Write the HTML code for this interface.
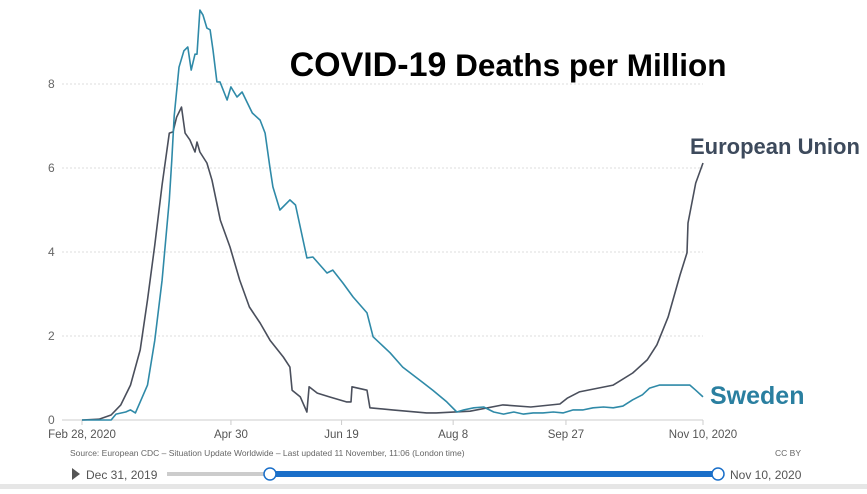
<!DOCTYPE html>
<html><head><meta charset="utf-8"><style>
body{margin:0;background:#fff;width:867px;height:489px;overflow:hidden;font-family:"Liberation Sans",sans-serif}
</style></head><body>
<svg width="867" height="489" id="svg" xmlns="http://www.w3.org/2000/svg">
<rect x="0" y="484" width="867" height="5" fill="#e6e6e6"/>
<text x="508" y="76" text-anchor="middle" font-family="Liberation Sans, sans-serif" font-weight="bold" font-size="31.5" fill="#000"><tspan font-size="34">COVID-19</tspan> Deaths per Million</text>
<g id="grid"></g><g id="xt"></g><g id="lines"></g>
<text x="690" y="154" font-weight="bold" font-size="22" fill="#3d4a5c">European Union</text>
<text x="710" y="404" font-weight="bold" font-size="25" fill="#2a7fa0">Sweden</text>
<text x="70" y="456" font-size="8.5" fill="#666">Source: European CDC – Situation Update Worldwide – Last updated 11 November, 11:06 (London time)</text>
<text x="801" y="456" font-size="8.5" fill="#666" text-anchor="end">CC BY</text>
<path d="M72 468 L80 474 L72 480 Z" fill="#555"/>
<text x="86" y="479" font-size="12" fill="#555">Dec 31, 2019</text>
<rect x="167" y="472" width="551" height="4" fill="#ccc"/>
<rect x="270" y="471" width="448" height="6" fill="#1a6fc9"/>
<circle cx="270" cy="474" r="6" fill="#fff" stroke="#1a6fc9" stroke-width="1.5"/>
<circle cx="718" cy="474" r="6" fill="#fff" stroke="#1a6fc9" stroke-width="1.5"/>
<text x="730" y="479" font-size="12" fill="#555">Nov 10, 2020</text>
</svg>
<script>
const yTicks=[0,2,4,6,8];
const xTickDays=[0,61.4,107,153,199.5,256];
const xTickLabels=["Feb 28, 2020","Apr 30","Jun 19","Aug 8","Sep 27","Nov 10, 2020"];
const euDays=[0,7,12,16,20,24,27,30,33,36,37.5,39,41,42.5,44.5,46.6,47.4,48.6,51.5,53.6,57,61,65,69,73.4,77.5,83,85.7,86.6,90,92.7,93.6,97,102,109,110.9,111.3,117.5,118.7,128,142,146,160,173.5,185,197,200,205,219,227,233,237,241.6,246.5,249.4,249.8,253,256];
const euVals=[0,0.02,0.12,0.36,0.83,1.67,2.86,4.17,5.6,6.83,6.86,7.21,7.45,6.83,6.67,6.38,6.62,6.38,6.12,5.71,4.76,4.12,3.33,2.69,2.31,1.9,1.5,1.26,0.71,0.55,0.19,0.79,0.64,0.55,0.43,0.43,0.79,0.71,0.29,0.24,0.17,0.17,0.21,0.36,0.31,0.38,0.52,0.67,0.83,1.12,1.43,1.79,2.45,3.45,3.98,4.69,5.64,6.12];
const seDays=[0,12,14,18,20,22,24,27,30,33,36,37,38,40,42,43.6,45,46.6,47.4,48.6,49.9,51.5,52.8,54,55.6,56.9,59.8,61.4,63.9,66,68,70.2,73.4,75.5,77.5,78.7,81.6,85.7,88,92.7,95.2,101,103.4,107.6,111.7,117.5,120,127,132.2,139.2,144.6,150.4,154.5,157.4,161.5,165.6,169.7,173.8,178,182,186,190,194.3,198.4,202.5,206.6,210.7,215,219,223,227,231,234,238,242,246.5,250.6,253,256];
const seVals=[0,0,0.14,0.19,0.24,0.17,0.43,0.83,1.9,3.33,5.24,6.19,7.24,8.4,8.79,8.88,8.33,8.71,8.71,9.76,9.64,9.33,9.29,8.81,8.05,8.05,7.62,7.93,7.69,7.81,7.57,7.31,7.14,6.83,6,5.55,5,5.24,5.12,3.86,3.88,3.5,3.57,3.26,2.93,2.55,1.98,1.6,1.26,0.95,0.71,0.43,0.19,0.24,0.29,0.31,0.19,0.14,0.19,0.14,0.17,0.17,0.19,0.17,0.24,0.24,0.29,0.31,0.29,0.33,0.48,0.6,0.76,0.83,0.83,0.83,0.83,0.71,0.55];
const NS="http://www.w3.org/2000/svg";
const X0=82,X1=703,Y0=420,YS=42,DMAX=256;
const xs=d=>X0+d*(X1-X0)/DMAX, ys=v=>Y0-v*YS;
function mk(t,a,p){const e=document.createElementNS(NS,t);for(const k in a)e.setAttribute(k,a[k]);p.appendChild(e);return e;}
const grid=document.getElementById('grid');
yTicks.forEach(v=>{
 const l=mk('line',{x1:62,x2:X1,y1:ys(v),y2:ys(v),stroke:v?'#ddd':'#ccc','stroke-dasharray':v?'2,2':'none'},grid);
 
 
 const t=mk('text',{x:48,y:ys(v)+4,'font-size':12,fill:'#666'},grid);t.textContent=v;
 
 
});
const xt=document.getElementById('xt');
xTickDays.forEach((d,i)=>{
 const x=xs(d);
 const tk=mk('line',{x1:x,x2:x,y1:Y0,y2:Y0+5,stroke:'#ccc'},xt);
 
 
 const t=mk('text',{x:x,y:Y0+18,'font-size':11.5,fill:'#555','text-anchor':'middle'},xt);t.textContent=xTickLabels[i];
 
 
});
const lines=document.getElementById('lines');
function line(days,vals,col,name){
 const d=days.map((dd,i)=>(i?'L':'M')+xs(dd).toFixed(1)+' '+ys(vals[i]).toFixed(1)).join(' ');
 const p=mk('path',{d:d,fill:'none',stroke:col,'stroke-width':1.6,'stroke-linejoin':'round'},lines);
 
 
}
line(euDays,euVals,'#4a4f5c','line-european-union');
line(seDays,seVals,'#2f8aa8','line-sweden');
</script>
</body></html>
